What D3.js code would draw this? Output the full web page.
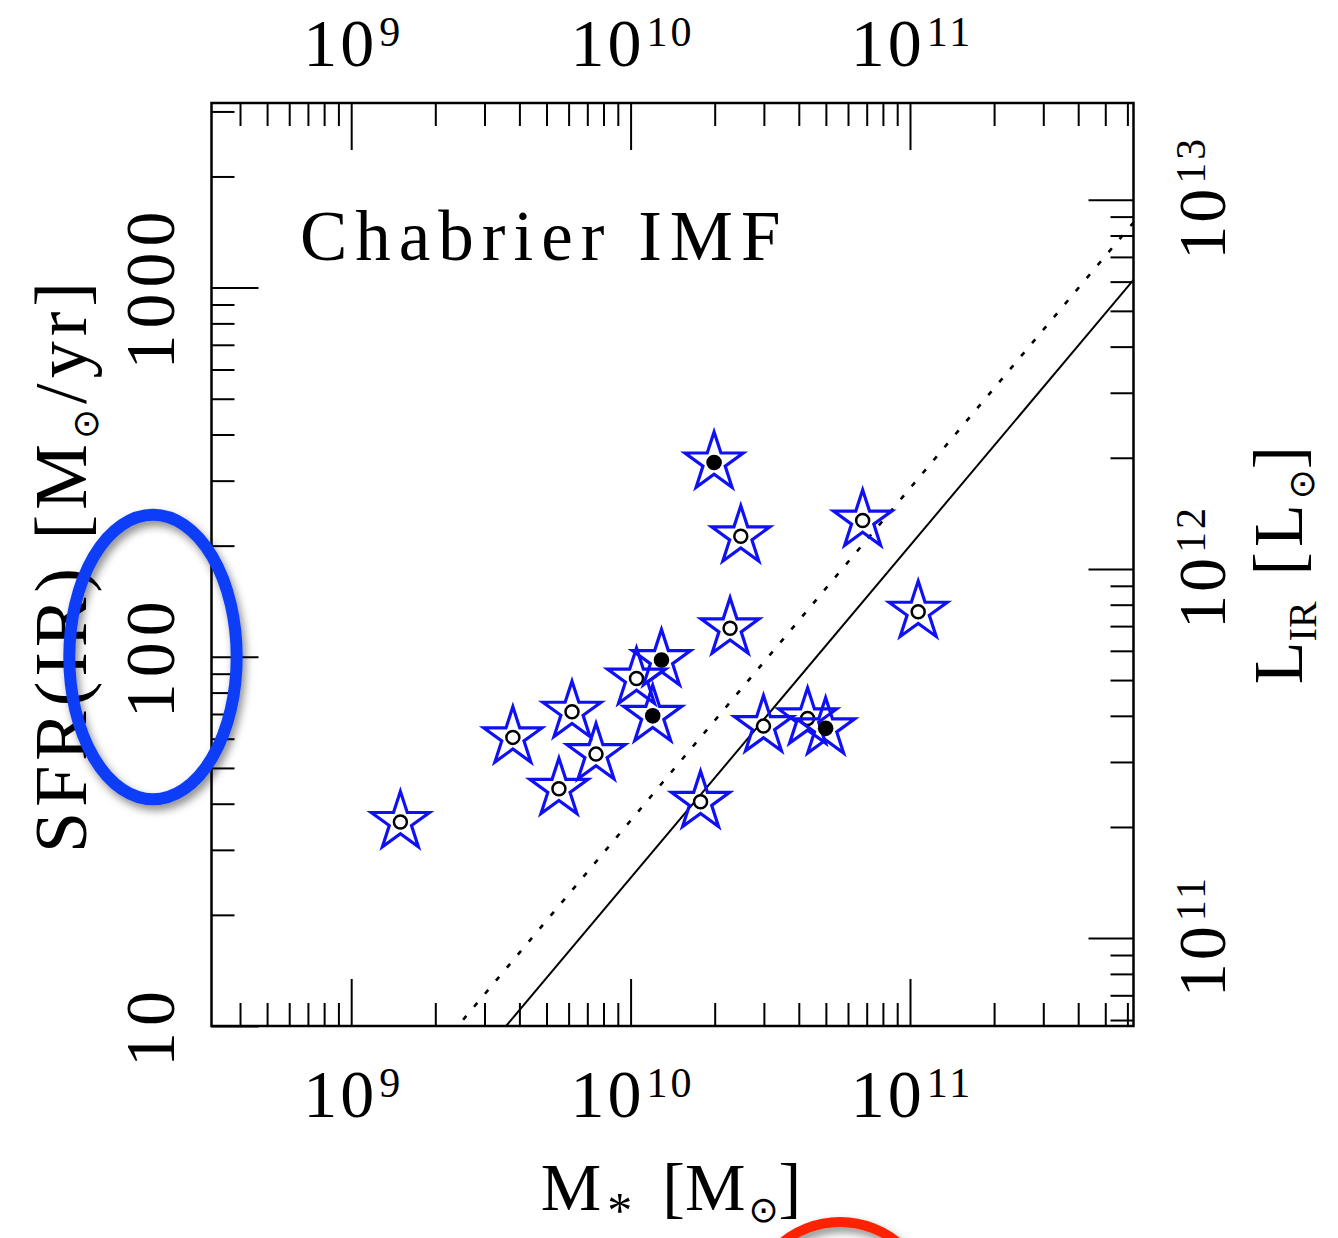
<!DOCTYPE html>
<html>
<head>
<meta charset="utf-8">
<script src="https://cdn.jsdelivr.net/npm/d3@7"></script>
<style>
  html, body { margin: 0; padding: 0; background: #fff; }
  svg { display: block; }
</style>
</head>
<body>
<svg id="chart" width="1338" height="1238"></svg>
<script>
// Galaxy sample: stellar mass against infrared star-formation rate
const stellarMass = [1.50e9, 3.79e9, 6.17e9, 7.52e9, 5.54e9, 1.05e10, 1.29e10, 1.20e10,
                     1.99e10, 2.48e10, 6.77e10, 1.07e11, 2.27e10, 2.99e10, 4.30e10, 4.99e10, 1.78e10];
const sfrIR       = [35.7, 60.5, 71.0, 54.5, 43.9, 87.3, 98.0, 69.2,
                     336, 212, 234, 132.5, 119.5, 64.9, 68.1, 64.0, 40.5];
const filledCore  = [0, 0, 0, 0, 0, 0, 1, 1,
                     1, 0, 0, 0, 0, 0, 0, 1, 0];

// axis extents and labelled ticks
const massRange = [Math.pow(10, 8.5), Math.pow(10, 11.8)];
const sfrRange = [10, Math.pow(10, 3.5)];
const sfrPerLIR = 1.73e-10;           // SFR [Msun/yr] per L_IR [Lsun]
const massLabelTicks = [1e9, 1e10, 1e11];
const sfrLabelTicks = [10, 100, 1000];
const lirLabelTicks = [1e11, 1e12, 1e13];

// main-sequence relations: SFR = norm * (M / 1e11)^slope
const seqNorms = [200, 286];
const seqSlopes = [0.9, 0.9];
const seqDashes = [null, "5,12"];

const panelTitle = "Chabrier IMF";

const FONT = "'Liberation Serif', 'Times New Roman', serif";
const svg = d3.select("#chart");
const plotL = 211.5, plotR = 1133.5, plotT = 103, plotB = 1026;

const x = d3.scaleLog().domain(massRange).range([plotL, plotR]);
const y = d3.scaleLog().domain(sfrRange).range([plotB, plotT]);
const yL = d3.scaleLog().domain(sfrRange.map(s => s / sfrPerLIR)).range([plotB, plotT]);

function decadeTicks(scale) {
  const [a, b] = scale.domain();
  const major = [], minor = [];
  for (let e = Math.floor(Math.log10(a)); e <= Math.ceil(Math.log10(b)); e++) {
    for (let m = 1; m <= 9; m++) {
      const v = m * Math.pow(10, e);
      if (v >= a * 0.9999 && v <= b * 1.0001) (m === 1 ? major : minor).push(v);
    }
  }
  return { major, minor };
}

// clip region for model lines, shadow for highlight rings
svg.append("defs").html(`
  <clipPath id="plotClip"><rect x="${plotL}" y="${plotT}" width="${plotR - plotL}" height="${plotB - plotT}"/></clipPath>
  <filter id="ringShadow" x="-30%" y="-30%" width="160%" height="160%">
    <feDropShadow dx="3" dy="5" stdDeviation="4" flood-color="#000" flood-opacity="0.45"/>
  </filter>`);

// ticks drawn inward on all four sides
function tickSet(axisFn, scale, transform, long, short) {
  const t = decadeTicks(scale);
  [[t.major, long], [t.minor, short]].forEach(([vals, len]) => {
    const g = svg.append("g").attr("transform", transform)
      .call(axisFn(scale).tickValues(vals).tickSize(-len).tickFormat(""));
    g.select(".domain").remove();
    g.selectAll(".tick line").attr("stroke", "#000").attr("stroke-width", 2);
  });
}
tickSet(d3.axisBottom, x, `translate(0,${plotB})`, 47, 23);
tickSet(d3.axisTop, x, `translate(0,${plotT})`, 47, 23);
tickSet(d3.axisLeft, y, `translate(${plotL},0)`, 47, 23);
tickSet(d3.axisRight, yL, `translate(${plotR},0)`, 45, 23);

// frame
svg.append("rect")
  .attr("x", plotL).attr("y", plotT)
  .attr("width", plotR - plotL).attr("height", plotB - plotT)
  .attr("fill", "none").attr("stroke", "#000").attr("stroke-width", 2.5);

// main-sequence lines
const lineGen = d3.line().x(d => x(d[0])).y(d => y(d[1]));
seqNorms.forEach((norm, i) => {
  const ends = massRange.map(m => [m, norm * Math.pow(m / 1e11, seqSlopes[i])]);
  svg.append("path")
    .attr("clip-path", "url(#plotClip)")
    .attr("d", lineGen(ends))
    .attr("fill", "none").attr("stroke", "#000")
    .attr("stroke-width", i === 0 ? 2 : 2.6)
    .attr("stroke-dasharray", seqDashes[i]);
});

// galaxies: blue star outline with a core marker
const star = d3.symbol().type(d3.symbolStar).size(1050);
const galaxies = stellarMass.map((m, i) => ({ m, s: sfrIR[i], f: filledCore[i] }));
const gal = svg.append("g").selectAll("g").data(galaxies).join("g")
  .attr("transform", d => `translate(${x(d.m)},${y(d.s)})`);
gal.append("path").attr("d", star)
  .attr("fill", "none").attr("stroke", "#1010f4").attr("stroke-width", 3.2)
  .attr("stroke-linejoin", "miter");
gal.append("circle")
  .attr("r", d => d.f ? 7.8 : 6.5)
  .attr("fill", d => d.f ? "#000" : "#fff")
  .attr("stroke", "#000").attr("stroke-width", d => d.f ? 0 : 2.5);

// tick labels
function powerLabel(parent, transform, v) {
  const exp = Math.round(Math.log10(v));
  const t = parent.append("text").attr("transform", transform)
    .attr("text-anchor", "middle").attr("font-family", FONT)
    .attr("font-size", 68).attr("letter-spacing", 3).attr("fill", "#000");
  t.append("tspan").text("10");
  t.append("tspan").attr("font-size", 42).attr("dy", -20).attr("dx", 2).text(exp);
}
massLabelTicks.forEach(v => {
  powerLabel(svg, `translate(${x(v) + 2},66)`, v);
  powerLabel(svg, `translate(${x(v) + 2},1117)`, v);
});
lirLabelTicks.forEach(v => {
  powerLabel(svg, `translate(1225,${yL(v) - 2}) rotate(-90)`, v);
});
sfrLabelTicks.forEach(v => {
  svg.append("text")
    .attr("transform", `translate(174,${y(v)}) rotate(-90)`)
    .attr("text-anchor", "middle").attr("font-family", FONT)
    .attr("font-size", 70).attr("letter-spacing", 6).attr("fill", "#000")
    .text(v);
});

// axis titles
const xt = svg.append("text")
  .attr("transform", "translate(671,1210)")
  .attr("text-anchor", "middle").attr("font-family", FONT)
  .attr("font-size", 68).attr("fill", "#000");
xt.append("tspan").text("M");
xt.append("tspan").attr("font-size", 50).attr("dx", 6).attr("dy", 17).text("*");
xt.append("tspan").attr("dy", -17).attr("dx", 30).text("[M");
xt.append("tspan").attr("font-size", 36).attr("dy", 12).attr("dx", 3)
  .attr("font-family", "'DejaVu Sans', sans-serif").text("⊙");
xt.append("tspan").attr("dy", -12).text("]");

const yt = svg.append("text")
  .attr("transform", "translate(86,565) rotate(-90)")
  .attr("text-anchor", "middle").attr("font-family", FONT)
  .attr("font-size", 74).attr("letter-spacing", 5).attr("fill", "#000");
yt.append("tspan").text("SFR(IR) [M");
yt.append("tspan").attr("font-size", 36).attr("dy", 12)
  .attr("font-family", "'DejaVu Sans', sans-serif").text("⊙");
yt.append("tspan").attr("dy", -12).text("/yr]");

const rt = svg.append("text")
  .attr("transform", "translate(1302,565) rotate(-90)")
  .attr("text-anchor", "middle").attr("font-family", FONT)
  .attr("font-size", 70).attr("fill", "#000");
rt.append("tspan").text("L");
rt.append("tspan").attr("font-size", 40).attr("dy", 14).text("IR");
rt.append("tspan").attr("dy", -14).attr("dx", 26).attr("letter-spacing", 5).text("[L");
rt.append("tspan").attr("font-size", 36).attr("dy", 12)
  .attr("font-family", "'DejaVu Sans', sans-serif").text("⊙");
rt.append("tspan").attr("dy", -12).text("]");

// panel title
svg.append("text")
  .attr("x", 300).attr("y", 260)
  .attr("font-family", FONT).attr("font-size", 71)
  .attr("letter-spacing", 8).attr("fill", "#000")
  .text(panelTitle);

// highlight rings
svg.append("ellipse")
  .attr("cx", 153).attr("cy", 657).attr("rx", 83.7).attr("ry", 142.3)
  .attr("fill", "none").attr("stroke", "#0b3cf6").attr("stroke-width", 12)
  .attr("filter", "url(#ringShadow)");
svg.append("circle")
  .attr("cx", 840).attr("cy", 1313).attr("r", 91)
  .attr("fill", "none").attr("stroke", "#fd2300").attr("stroke-width", 10)
  .attr("filter", "url(#ringShadow)");
</script>
</body>
</html>
